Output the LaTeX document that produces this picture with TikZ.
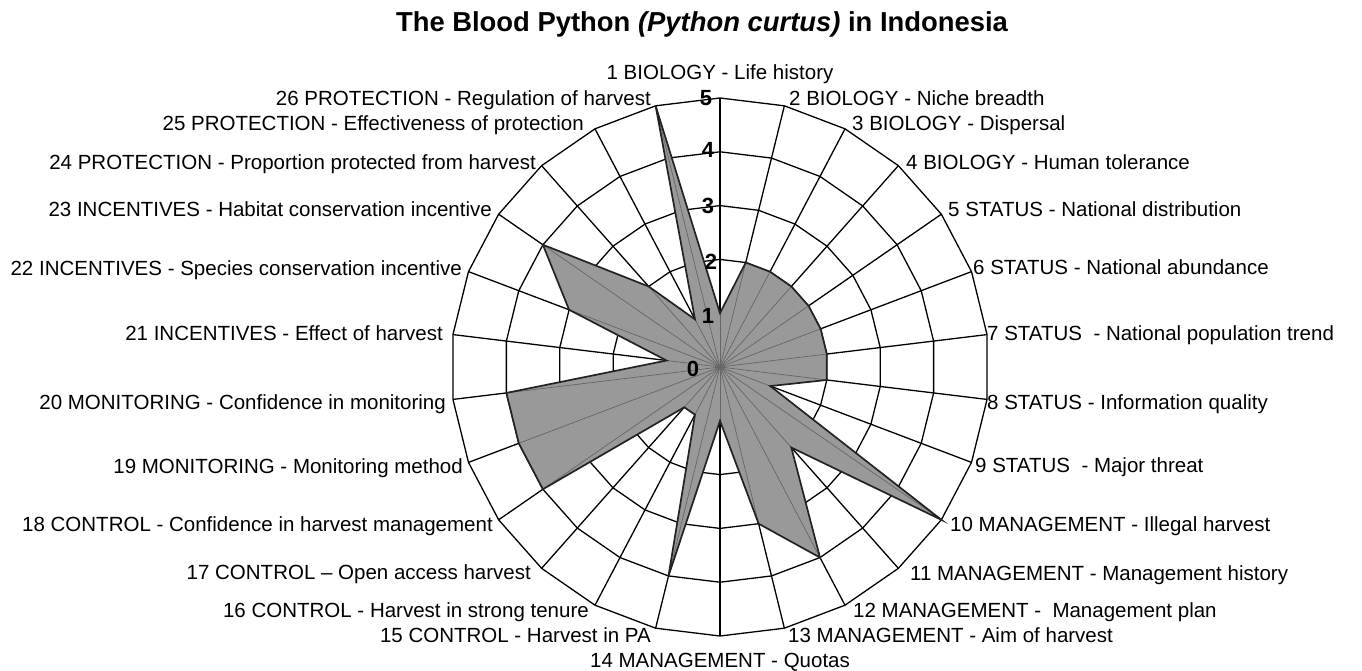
\documentclass[tikz,border=0pt]{standalone}
\usepackage{fontspec}
\setmainfont{Liberation Sans}
\begin{document}
\begin{tikzpicture}[x=1pt,y=1pt,
  gridline/.style={black, line width=1.3pt},
  spoke/.style={gray!80!black, line width=0.7pt},
  datafill/.style={fill={rgb,255:red,153;green,153;blue,153}},
  dataline/.style={draw={rgb,255:red,35;green,35;blue,35}, line width=1.7pt, line join=miter},
  lab/.style={font=\fontsize{20.5}{22}\selectfont, inner sep=0pt, text height=14.7pt, text depth=0pt},
  num/.style={font=\bfseries\fontsize{22}{24}\selectfont, inner sep=0pt, text height=15.8pt, text depth=0pt},
  ttl/.style={font=\bfseries\fontsize{27.4}{29}\selectfont, inner sep=0pt, text height=19.6pt, text depth=0pt}]
\useasboundingbox (-720,-303) rectangle (642,367);
\fill[white] (-720,-303) rectangle (642,367);
\def\u{53.8}
\coordinate (c) at (0,0);
% axis end points
\foreach \i in {0,...,25} {
  \coordinate (a\i) at ({90-\i*360/26}:5*\u);
}
% rings
\foreach \r in {1,...,5} {
  \draw[gridline] (90:\r*\u) \foreach \i in {1,...,25} { -- ({90-\i*360/26}:\r*\u) } -- cycle;
}
% axes
\foreach \i in {0,...,25} {
  \draw[gridline] (c) -- (a\i);
}
% data
\foreach \v [count=\k from 0] in {1,2,2,2,2,2,2,2,1,5,2,4,3,1,4,1,1,4,4,4,1,3,4,2,1,5} {
  \coordinate (d\k) at ({90-\k*360/26}:\v*\u);
}
\fill[datafill] (d0) \foreach \i in {1,...,25} { -- (d\i) } -- cycle;
\foreach \i in {0,...,25} {
  \draw[spoke] (c) -- (d\i);
}
\draw[dataline] (d0) \foreach \i in {1,...,25} { -- (d\i) } -- cycle;
% scale numbers
\node[num] (n5) at (-14,269) {5};
\node[num] (n4) at (-12,217) {4};
\node[num] (n3) at (-12,161) {3};
\node[num] (n2) at (-9,105) {2};
\node[num] (n1) at (-12,51) {1};
\node[num] (n0) at (-27,-2) {0};
% title
\node[ttl] (title) at (-18,345) {The Blood Python \textit{(Python curtus)} in Indonesia};
% labels
\node[lab] (l1) at (0,295) {1 BIOLOGY - Life history};
\node[lab,anchor=west] (l2) at (69,269) {2 BIOLOGY - Niche breadth};
\node[lab,anchor=west] (l3) at (132,244) {3 BIOLOGY - Dispersal};
\node[lab,anchor=west] (l4) at (186,205) {4 BIOLOGY - Human tolerance};
\node[lab,anchor=west] (l5) at (228,158) {5 STATUS - National distribution};
\node[lab,anchor=west] (l6) at (253,100) {6 STATUS - National abundance};
\node[lab,anchor=west] (l7) at (267,34) {7 STATUS\ \ - National population trend};
\node[lab,anchor=west] (l8) at (267,-35) {8 STATUS - Information quality};
\node[lab,anchor=west] (l9) at (255,-98) {9 STATUS\ \ - Major threat};
\node[lab,anchor=west] (l10) at (230,-157) {10 MANAGEMENT - Illegal harvest};
\node[lab,anchor=west] (l11) at (190,-206) {11 MANAGEMENT - Management history};
\node[lab,anchor=west] (l12) at (133,-243) {12 MANAGEMENT -\ \ Management plan};
\node[lab,anchor=west] (l13) at (68,-268) {13 MANAGEMENT - Aim of harvest};
\node[lab] (l14) at (0,-293) {14 MANAGEMENT - Quotas};
\node[lab,anchor=east] (l15) at (-69,-268) {15 CONTROL - Harvest in PA};
\node[lab,anchor=east] (l16) at (-131,-243) {16 CONTROL - Harvest in strong tenure};
\node[lab,anchor=east] (l17) at (-189,-205) {17 CONTROL – Open access harvest};
\node[lab,anchor=east] (l18) at (-227,-157) {18 CONTROL - Confidence in harvest management};
\node[lab,anchor=east] (l19) at (-257,-99) {19 MONITORING - Monitoring method};
\node[lab,anchor=east] (l20) at (-274,-35) {20 MONITORING - Confidence in monitoring};
\node[lab,anchor=east] (l21) at (-277,34) {21 INCENTIVES - Effect of harvest};
\node[lab,anchor=east] (l22) at (-258,99) {22 INCENTIVES - Species conservation incentive};
\node[lab,anchor=east] (l23) at (-228,158) {23 INCENTIVES - Habitat conservation incentive};
\node[lab,anchor=east] (l24) at (-184,205) {24 PROTECTION - Proportion protected from harvest};
\node[lab,anchor=east] (l25) at (-136,244) {25 PROTECTION - Effectiveness of protection};
\node[lab,anchor=east] (l26) at (-69,269) {26 PROTECTION - Regulation of harvest};
\end{tikzpicture}
\end{document}
